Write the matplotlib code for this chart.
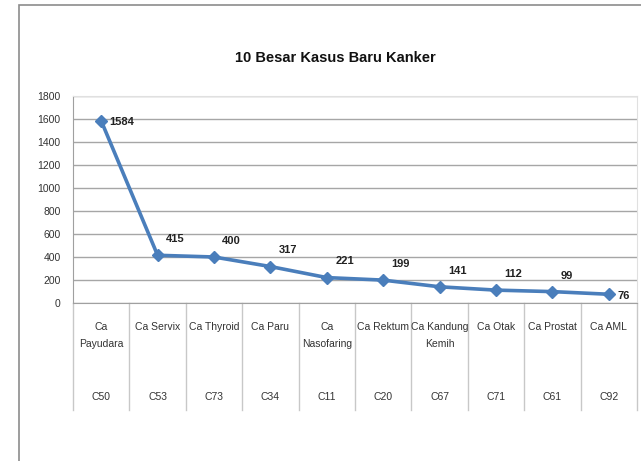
import matplotlib.pyplot as plt
import matplotlib.transforms as mtransforms
from matplotlib.patches import Rectangle

# data
categories = ['Ca\nPayudara', 'Ca Servix', 'Ca Thyroid', 'Ca Paru', 'Ca\nNasofaring',
              'Ca Rektum', 'Ca Kandung\nKemih', 'Ca Otak', 'Ca Prostat', 'Ca AML']
codes = ['C50', 'C53', 'C73', 'C34', 'C11', 'C20', 'C67', 'C71', 'C61', 'C92']
cases = [1584, 415, 400, 317, 221, 199, 141, 112, 99, 76]
y_ticks = [0, 200, 400, 600, 800, 1000, 1200, 1400, 1600, 1800]

plt.rcParams['font.family'] = ['Liberation Sans Narrow', 'Liberation Sans', 'DejaVu Sans']

W, H = 641, 461
fig = plt.figure(figsize=(W / 100, H / 100), dpi=100)
fig.patch.set_facecolor('white')

# outer chart border (Excel chart area)
fig.patches.append(Rectangle((19 / W, -0.1), 1.2, 1 - 5 / H + 0.1,
                             transform=fig.transFigure, fill=False,
                             edgecolor='#8c8c8c', lw=1.2))

ax = fig.add_axes([73 / W, 1 - 303 / H, (637 - 73) / W, (303 - 96) / H])
x = list(range(len(cases)))

ax.plot(x, cases, color='#4a7ebb', lw=2.6, marker='D', markersize=6,
        markerfacecolor='#4a7ebb', markeredgecolor='#4a7ebb', zorder=3)

ax.set_xlim(-0.5, len(cases) - 0.5)
ax.set_ylim(0, 1800)
ax.set_yticks(y_ticks)
ax.set_yticklabels([str(v) for v in y_ticks], fontsize=7.5, color='#333333')
ax.tick_params(axis='y', length=0, pad=9)
ax.set_xticks([])
ax.grid(axis='y', color='#a6a6a6', lw=1.0)
ax.set_axisbelow(True)
for side in ['top', 'right']:
    ax.spines[side].set_color('#e0e0e0')
for side in ['left', 'bottom']:
    ax.spines[side].set_color('#a0a0a0')

# data labels: first and last sit to the right, the rest above-right
for i, v in enumerate(cases):
    if i == 0 or i == len(cases) - 1:
        off, va = (6, -1), 'center'
    else:
        off, va = (6, 8), 'bottom'
    ax.annotate(str(v), (i, v), xytext=off, textcoords='offset points',
                ha='left', va=va, fontsize=8, fontweight='bold', color='#222222')

# multi-level category axis
trans = mtransforms.blended_transform_factory(ax.transData, ax.transAxes)
ph = 303 - 96
for k in range(len(cases) + 1):
    ax.plot([k - 0.5, k - 0.5], [0, -(410 - 303) / ph], transform=trans,
            color='#c8c8c8', lw=1.0, clip_on=False)
for i, (c, code) in enumerate(zip(categories, codes)):
    ax.text(i, -(322 - 303) / ph, c, transform=trans, ha='center', va='top',
            fontsize=7.5, color='#333333', linespacing=1.9)
    ax.text(i, -(397 - 303) / ph, code, transform=trans, ha='center', va='center',
            fontsize=7.5, color='#333333')

fig.text(335 / W, 1 - 58 / H, '10 Besar Kasus Baru Kanker', ha='center', va='center',
         fontsize=10.5, fontweight='bold', color='#111111')

fig.savefig('out.png', dpi=100)
